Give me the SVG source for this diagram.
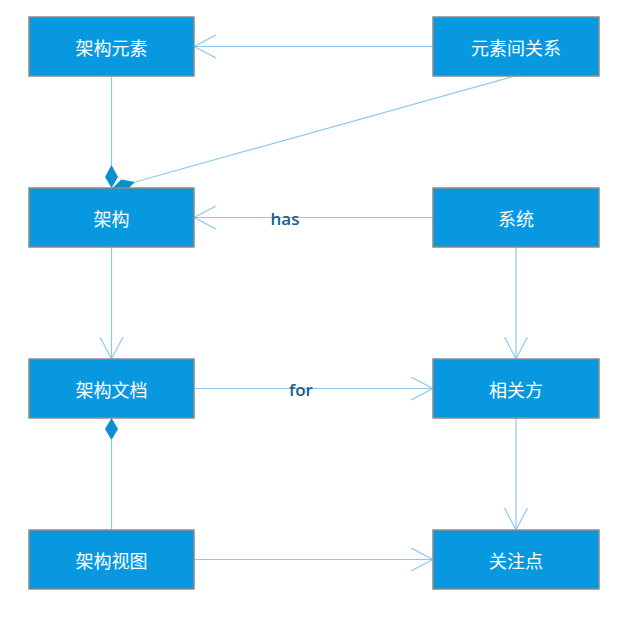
<svg xmlns="http://www.w3.org/2000/svg" width="631" height="621" viewBox="0 0 631 621">
<defs>
<style>
.node rect{fill:#0898E0;stroke:#8a8a8a;stroke-width:1.5}
.node text{fill:#fff;font-family:"Noto Sans CJK SC","Noto Sans",sans-serif;font-size:18px;text-anchor:middle;dominant-baseline:central}
.conn{stroke:#8CC9EC;stroke-width:1.2;fill:none}
.lbl{fill:#1B5E8E;font-family:"Open Sans","Noto Sans",sans-serif;font-size:17px;font-weight:600;text-anchor:middle}
.dia{fill:#0A8FD0;stroke:none}
</style>
<marker id="open" viewBox="0 0 24 24" refX="22" refY="12" markerWidth="24" markerHeight="24" markerUnits="userSpaceOnUse" orient="auto">
<path d="M0,0.5 L22,12 L0,23.5" fill="none" stroke="#8CC9EC" stroke-width="1.2"/>
</marker>
</defs>
<rect width="631" height="621" fill="#fff"/>
<g id="connectors">
<line class="conn" x1="433" y1="46.5" x2="194" y2="46.5" marker-end="url(#open)"/>
<line class="conn" x1="111.5" y1="76" x2="111.5" y2="165"/>
<path class="dia" d="M111.5,165 L118,177 L111.5,188 L105,177 Z"/>
<line class="conn" x1="515" y1="76" x2="135" y2="182"/>
<path class="dia" d="M112,188.5 L121.3,179.6 L135,182 L125.7,190.9 Z"/>
<line class="conn" x1="433" y1="217.5" x2="194" y2="217.5" marker-end="url(#open)"/>
<text class="lbl" x="285" y="225">has</text>
<line class="conn" x1="111.5" y1="247" x2="111.5" y2="359" marker-end="url(#open)"/>
<line class="conn" x1="516" y1="247" x2="516" y2="359" marker-end="url(#open)"/>
<line class="conn" x1="194" y1="388.5" x2="433" y2="388.5" marker-end="url(#open)"/>
<text class="lbl" x="301" y="396">for</text>
<line class="conn" x1="111.5" y1="530" x2="111.5" y2="440"/>
<path class="dia" d="M111.5,418 L118,429 L111.5,440 L105,429 Z"/>
<line class="conn" x1="516" y1="418" x2="516" y2="530" marker-end="url(#open)"/>
<line class="conn" x1="194" y1="559.5" x2="433" y2="559.5" marker-end="url(#open)"/>
</g>
<g id="n1" class="node"><rect x="29" y="17" width="165" height="59"/><text x="111.5" y="46.5">架构元素</text></g>
<g id="n2" class="node"><rect x="433" y="17" width="166" height="59"/><text x="516" y="46.5">元素间关系</text></g>
<g id="n3" class="node"><rect x="29" y="188" width="165" height="59"/><text x="111.5" y="217.5">架构</text></g>
<g id="n4" class="node"><rect x="433" y="188" width="166" height="59"/><text x="516" y="217.5">系统</text></g>
<g id="n5" class="node"><rect x="29" y="359" width="165" height="59"/><text x="111.5" y="388.5">架构文档</text></g>
<g id="n6" class="node"><rect x="433" y="359" width="166" height="59"/><text x="516" y="388.5">相关方</text></g>
<g id="n7" class="node"><rect x="29" y="530" width="165" height="59"/><text x="111.5" y="559.5">架构视图</text></g>
<g id="n8" class="node"><rect x="433" y="530" width="166" height="59"/><text x="516" y="559.5">关注点</text></g>
</svg>
